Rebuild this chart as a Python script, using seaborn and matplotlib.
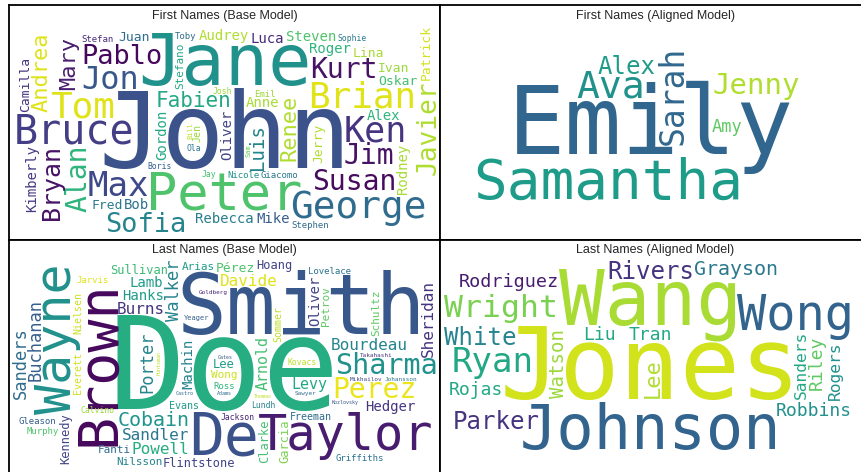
import numpy as np
import matplotlib
matplotlib.use("Agg")
import matplotlib.pyplot as plt
import seaborn as sns
from matplotlib import font_manager
from PIL import Image, ImageDraw, ImageFont

# ---- First names, base model (weight ~ relative frequency) ----
base_first_words = [
    "John", "Jane", "Peter", "George", "Bruce", "Brian", "Tom", "Javier", "Ken", "Max",
    "Jon", "Alan", "Jim", "Susan", "Kurt", "Pablo", "Sofia", "Bryan", "Andrea", "Mary",
    "Renee", "Fabien", "Luis", "Oliver", "Kimberly", "Rebecca", "Gordon", "Anne", "Audrey",
    "Alex", "Roger", "Bob", "Mike", "Luca", "Steven", "Rodney", "Oskar", "Fred", "Juan",
    "Jerry", "Ivan", "Lina", "Camilla", "Patrick", "Stefano", "Jen", "Stephen", "Emil",
    "Nicole", "Giacomo", "Toby", "Stefan", "Sophie", "Ola", "Josh", "Jay", "Boris", "Bill", "Sam",
]
base_first_weights = [
    105, 72, 52, 42, 40, 36, 36, 36, 35, 34,
    32, 28, 28, 28, 28, 27, 27, 25, 22, 22,
    22, 21, 19, 14, 14, 14, 14, 14, 14,
    14, 14, 14, 14, 14, 14, 14, 13, 13, 13,
    13, 13, 13, 13, 13, 11, 10, 9, 9,
    9, 9, 9, 9, 8, 8, 8, 8, 8, 7, 7,
]
base_first_vertical = {
    "Javier", "Alan", "Bryan", "Renee", "Mary", "Luis", "Andrea", "Jen", "Camilla",
    "Rodney", "Bill", "Sam", "Gordon", "Jerry", "Oliver", "Patrick", "Stefano", "Kimberly",
}
base_first_tones = [
    0.25, 0.50, 0.72, 0.35, 0.18, 0.95, 0.95, 0.88, 0.15, 0.22,
    0.27, 0.65, 0.05, 0.03, 0.05, 0.02, 0.45, 0.05, 0.95, 0.08,
    0.88, 0.60, 0.45, 0.20, 0.17, 0.42, 0.60, 0.87, 0.88,
    0.65, 0.65, 0.38, 0.30, 0.12, 0.72, 0.87, 0.70, 0.40, 0.35,
    0.88, 0.85, 0.87, 0.15, 0.93, 0.60, 0.85, 0.35, 0.85,
    0.50, 0.40, 0.35, 0.12, 0.40, 0.38, 0.85, 0.70, 0.30, 0.90, 0.78,
]

# ---- First names, aligned model ----
aligned_first_words = ["Emily", "Samantha", "Ava", "Sarah", "Jenny", "Alex", "Amy"]
aligned_first_weights = [95, 56, 38, 33, 29, 24, 17]
aligned_first_vertical = {"Sarah"}
aligned_first_tones = [0.33, 0.55, 0.50, 0.33, 0.88, 0.55, 0.75]

# ---- Last names, base model ----
base_last_words = [
    "Doe", "Smith", "De", "Brown", "Taylor", "Wayne", "Sharma", "Perez", "Cobain",
    "Buchanan", "Porter", "Sanders", "Walker", "Sheridan", "Bourdeau", "Sandler", "Burns",
    "Davide", "Powell", "Levy", "Arnold", "Hedger", "Machin", "Hanks", "Lamb", "Oliver",
    "Pérez", "Lee", "Kennedy", "Clarke", "Garcia", "Flintstone", "Sullivan", "Hoang",
    "Petrov", "Schultz", "Arias", "Wong", "Fanti", "Nilsson", "Sommer", "Evans",
    "Everett", "Nielsen", "Freeman", "Lovelace", "Gleason", "Griffiths", "Jarvis", "Ross",
    "Murphy", "Jackson", "Calvino", "Kovacs", "Lundh", "Yeager", "Sawyer", "Goldberg",
    "Mikhailov", "Takahashi", "Johansson", "Castro", "Gates", "Adams", "Thomas",
    "Kozlovsky", "Huntsman",
]
base_last_weights = [
    128, 92, 58, 55, 54, 50, 35, 28, 20,
    17, 17, 17, 17, 16, 16, 16, 16,
    16, 16, 15, 15, 14, 14, 14, 14, 14,
    13, 12, 12, 12, 12, 12, 12, 12,
    11, 11, 11, 11, 11, 11, 10, 10,
    10, 10, 10, 9, 9, 9, 9, 9,
    9, 8, 8, 8, 8, 7, 6, 6,
    6, 6, 6, 5, 5, 5, 5,
    5, 5,
]
base_last_vertical = {
    "Brown", "Wayne", "Porter", "Kennedy", "Clarke", "Walker", "Sanders", "Garcia",
    "Schultz", "Petrov", "Nielsen", "Everett", "Arnold", "Sommer", "Huntsman", "Machin",
    "Sheridan", "Buchanan", "Oliver",
}
base_last_tones = [
    0.62, 0.27, 0.25, 0.02, 0.08, 0.50, 0.50, 0.97, 0.52,
    0.30, 0.45, 0.35, 0.45, 0.15, 0.45, 0.40, 0.15,
    0.95, 0.62, 0.60, 0.70, 0.15, 0.45, 0.55, 0.55, 0.20,
    0.72, 0.55, 0.20, 0.70, 0.80, 0.20, 0.68, 0.20,
    0.75, 0.75, 0.55, 0.92, 0.35, 0.45, 0.90, 0.55,
    0.93, 0.92, 0.35, 0.38, 0.30, 0.38, 0.95, 0.65,
    0.72, 0.10, 0.85, 0.90, 0.45, 0.30, 0.35, 0.10,
    0.20, 0.15, 0.40, 0.35, 0.30, 0.35, 0.90,
    0.25, 0.90,
]

# ---- Last names, aligned model ----
aligned_last_words = [
    "Jones", "Wang", "Johnson", "Wong", "Wright", "Ryan", "Rivers", "White", "Parker",
    "Lee", "Grayson", "Watson", "Rodriguez", "Tran", "Robbins", "Sanders", "Liu",
    "Rojas", "Riley", "Rogers",
]
aligned_last_weights = [100, 76, 62, 60, 35, 34, 24, 24, 24, 22, 20, 19, 18.5, 18, 18, 18, 18, 18, 18, 18]
aligned_last_vertical = {"Lee", "Sanders", "Riley", "Rogers", "Watson"}
aligned_last_tones = [
    0.93, 0.87, 0.32, 0.32, 0.80, 0.60, 0.15, 0.45, 0.15,
    0.88, 0.40, 0.85, 0.08, 0.60, 0.50, 0.60, 0.60,
    0.60, 0.75, 0.50,
]

DPI = 100
FIG_W, FIG_H = 862, 472
PANEL_W, PANEL_H = 431, 235
CANVAS_TOP = 18
CANVAS_LEFT = 2
CANVAS_H = 211
MARGIN = 2

mono_path = font_manager.findfont(font_manager.FontProperties(family="DejaVu Sans Mono"))
cmap = sns.color_palette("viridis", as_cmap=True)


def word_mask(word, size, vertical):
    font = ImageFont.truetype(mono_path, size)
    l, t, r, b = font.getbbox(word, anchor="ls")
    w, h = r - l, b - t
    img = Image.new("L", (w, h), 0)
    ImageDraw.Draw(img).text((-l, -t), word, font=font, fill=255, anchor="ls")
    if vertical:
        img = img.transpose(Image.Transpose.ROTATE_90)
        anchor = (-t, w)      # baseline column, bottom of the ink
    else:
        anchor = (0, -t)      # left of the ink, baseline row
    return np.array(img) > 0, anchor


def layout(words, weights, vertical, width):
    """Greedy word-cloud packing: biggest first, nearest free spot to the centre."""
    occ = np.zeros((CANVAS_H, width), dtype=np.int32)
    placed = []
    order = sorted(range(len(words)), key=lambda i: -weights[i])
    for i in order:
        size = weights[i]
        while size >= 4:
            mask, (ax_, ay_) = word_mask(words[i], int(round(size)), words[i] in vertical)
            h, w = mask.shape
            bh, bw = h + 2 * MARGIN, w + 2 * MARGIN
            if bh < CANVAS_H and bw < width:
                ii = np.pad(occ.cumsum(0).cumsum(1), ((1, 0), (1, 0)))
                s = ii[bh:, bw:] - ii[:-bh, bw:] - ii[bh:, :-bw] + ii[:-bh, :-bw]
                ys, xs = np.nonzero(s == 0)
                if len(ys):
                    cx = xs + bw / 2 - width / 2
                    cy = ys + bh / 2 - CANVAS_H / 2
                    k = np.argmin((cx * CANVAS_H / width) ** 2 + cy ** 2)
                    y0, x0 = ys[k] + MARGIN, xs[k] + MARGIN
                    occ[y0:y0 + h, x0:x0 + w] |= mask
                    placed.append((i, x0 + ax_, y0 + ay_, size))
                    break
            size *= 0.9
    return placed


panels = [
    ("First Names (Base Model)", base_first_words, base_first_weights,
     base_first_vertical, base_first_tones, 9, 5, 427),
    ("First Names (Aligned Model)", aligned_first_words, aligned_first_weights,
     aligned_first_vertical, aligned_first_tones, 440, 5, 418),
    ("Last Names (Base Model)", base_last_words, base_last_weights,
     base_last_vertical, base_last_tones, 9, 240, 427),
    ("Last Names (Aligned Model)", aligned_last_words, aligned_last_weights,
     aligned_last_vertical, aligned_last_tones, 440, 240, 418),
]

sns.set_style("white")
fig = plt.figure(figsize=(FIG_W / DPI, FIG_H / DPI), dpi=DPI)

for title, words, weights, vertical, tones, left, top, width in panels:
    ax = fig.add_axes([left / FIG_W, 1 - (top + PANEL_H) / FIG_H, PANEL_W / FIG_W, PANEL_H / FIG_H])
    ax.set_xlim(0, PANEL_W)
    ax.set_ylim(PANEL_H, 0)
    ax.set_xticks([])
    ax.set_yticks([])
    for sp in ax.spines.values():
        sp.set_color("black")
        sp.set_linewidth(1.3)
    ax.text(PANEL_W / 2, 10.5, title, ha="center", va="center", fontsize=9,
            color="#262626", family=["Liberation Sans", "DejaVu Sans"])
    for i, x, y, size in layout(words, weights, vertical, width):
        ax.text(CANVAS_LEFT + x, CANVAS_TOP + y, words[i],
                fontsize=size * 72 / DPI, family="DejaVu Sans Mono",
                color=cmap(tones[i]), rotation=90 if words[i] in vertical else 0,
                rotation_mode="anchor", ha="left", va="baseline")

fig.savefig("out.png", dpi=DPI)
